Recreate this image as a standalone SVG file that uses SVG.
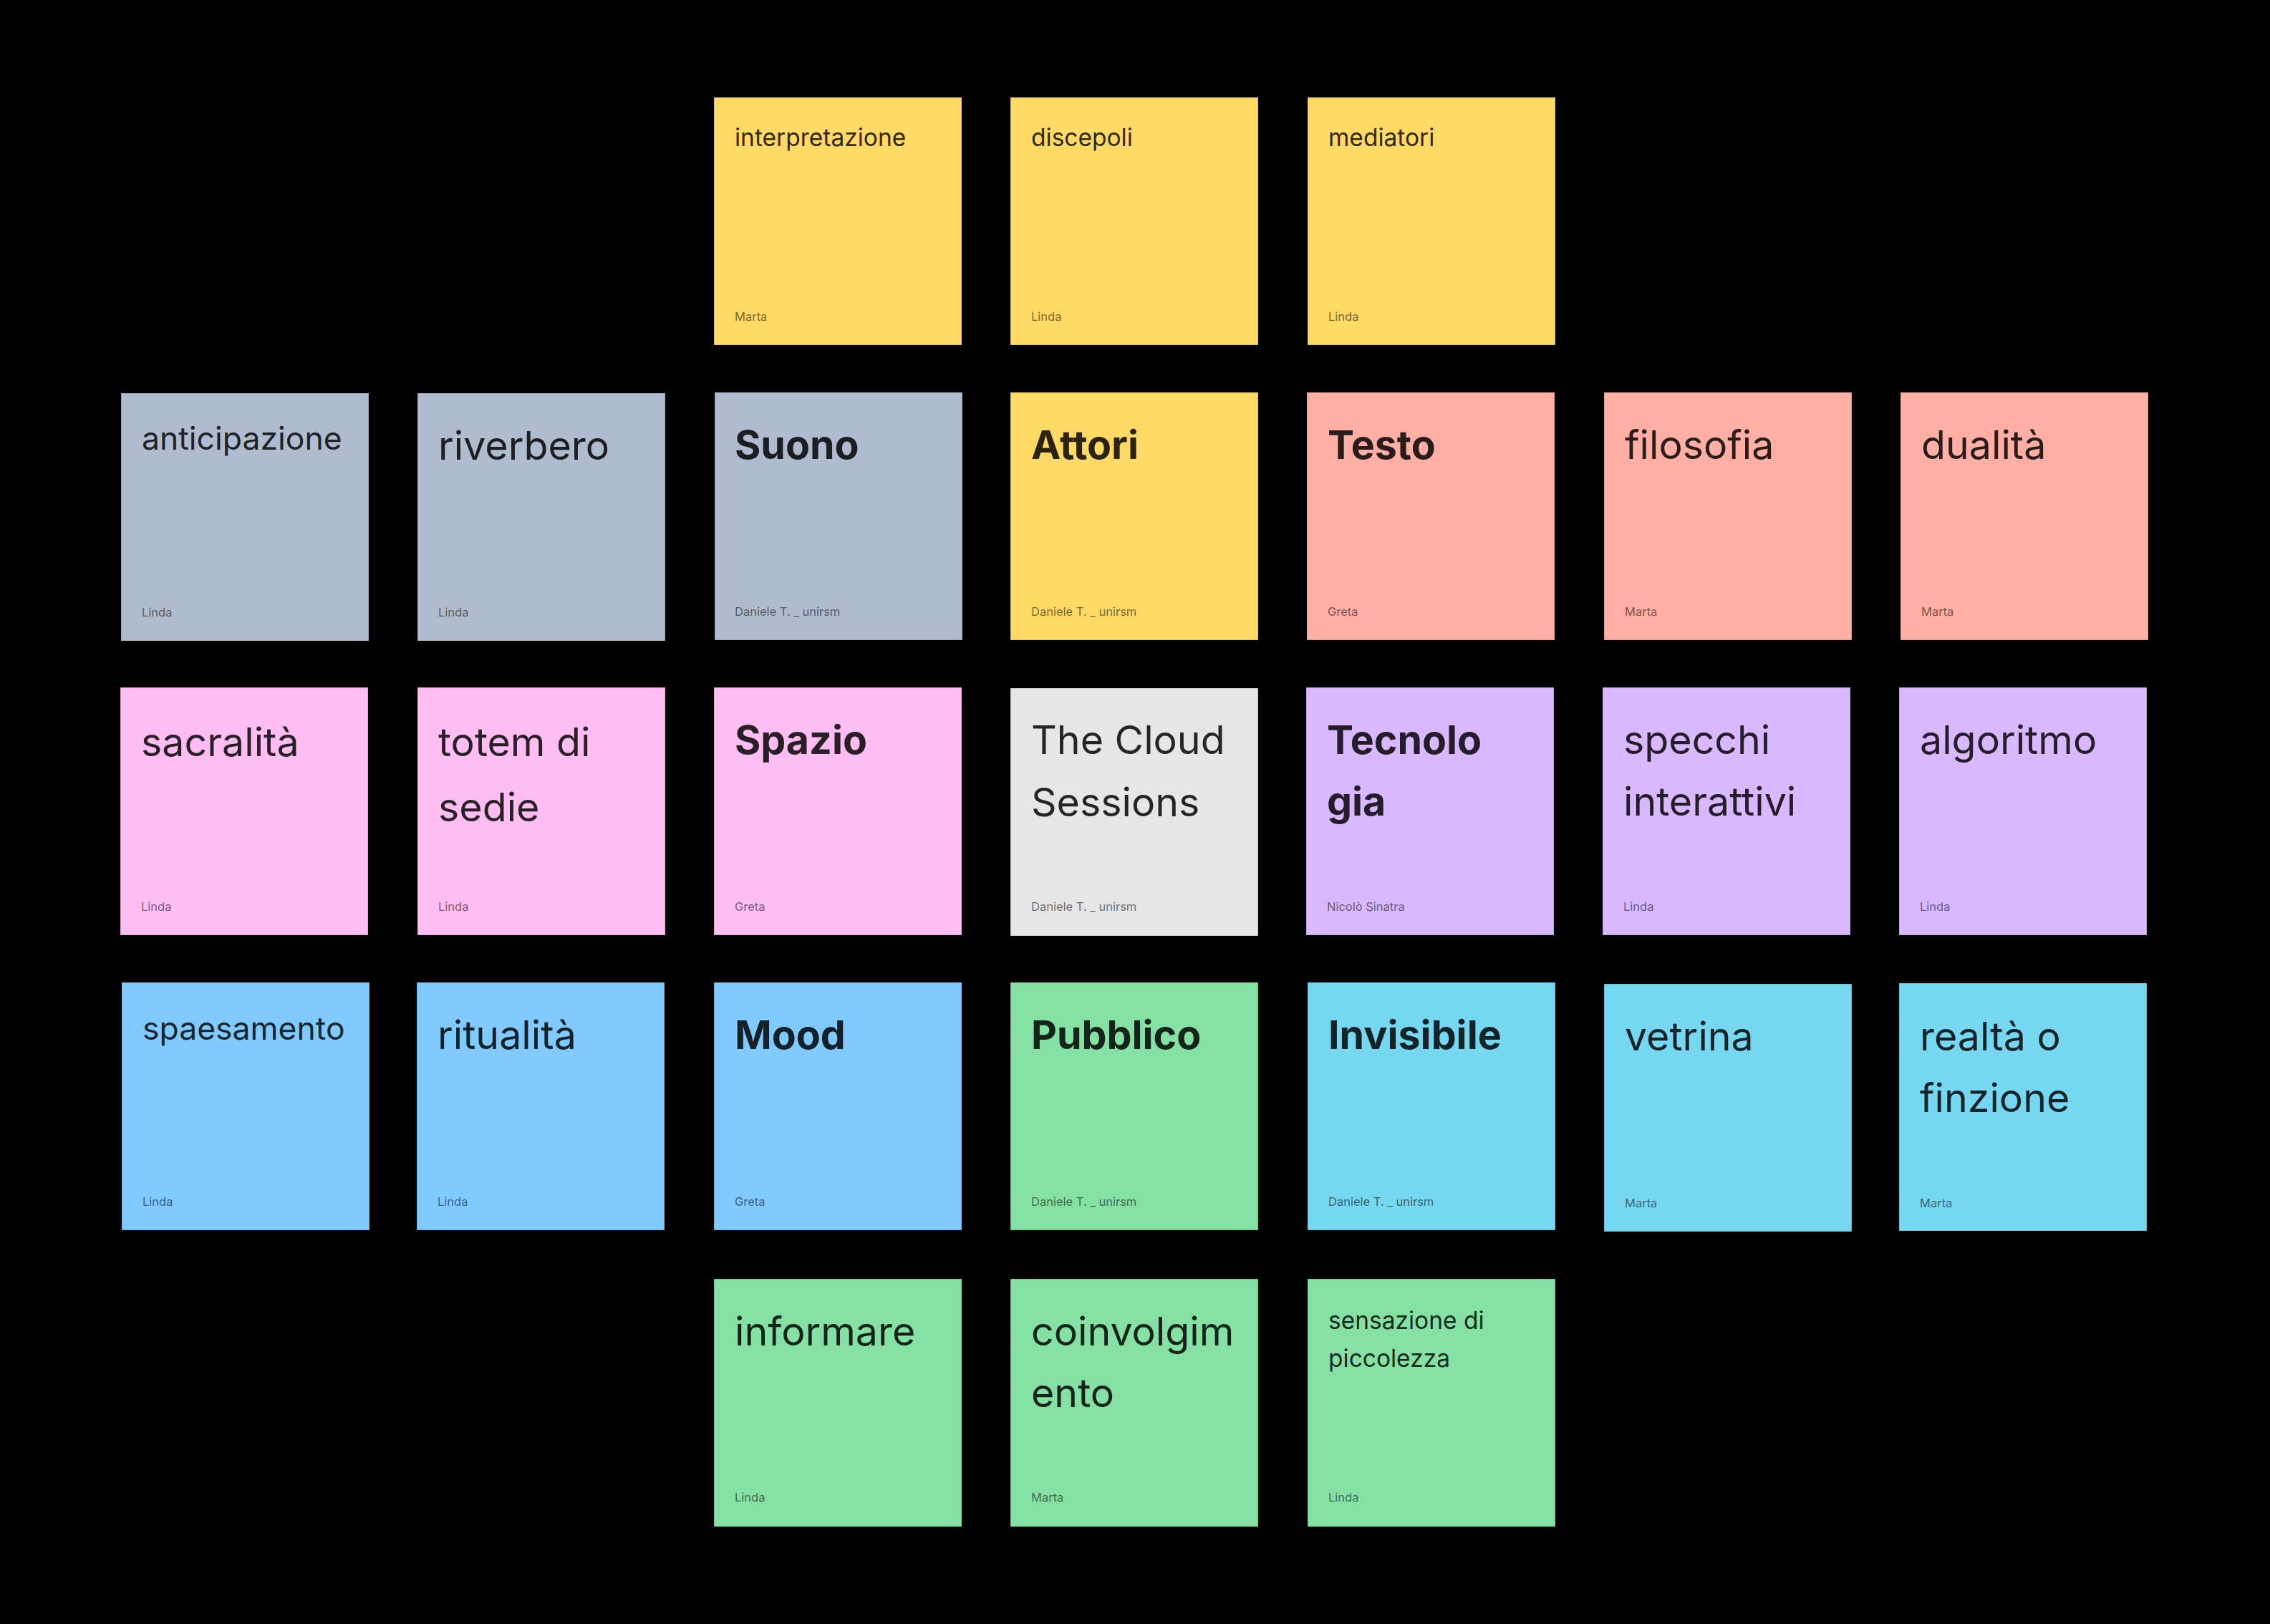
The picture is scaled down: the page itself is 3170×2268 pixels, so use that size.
<svg xmlns="http://www.w3.org/2000/svg" width="3170" height="2268" viewBox="0 0 3170 2268">
<style>
.note{stroke:rgba(0,0,0,0.25);stroke-width:1}
.yellow{fill:#FFD966}.slate{fill:#AFBCCF}.red{fill:#FFAFA3}.pink{fill:#FFBDF2}.grey{fill:#E6E6E6}.violet{fill:#D9B8FF}.blue{fill:#80CAFF}.teal{fill:#75D7F0}.green{fill:#85E0A3}
text{font-family:Inter,"Noto Sans","Liberation Sans",sans-serif}
.t{font-size:55.5px;fill:rgba(0,0,0,0.84)}
.b{font-weight:700}
.m{font-size:44.5px;fill:rgba(0,0,0,0.84)}
.s{font-size:33.5px;fill:rgba(0,0,0,0.84)}
.au{font-size:16.5px;fill:rgba(0,0,0,0.55)}
</style>
<rect x="0" y="0" width="3170" height="2268" fill="#000"/>
<g id="connectors"></g>

<g id="n-interpretazione"><rect class="note yellow" x="997" y="136" width="346" height="346"/><text class="s" x="1026" y="204">interpretazione</text><text class="au" x="1026" y="448">Marta</text></g>
<g id="n-discepoli"><rect class="note yellow" x="1411" y="136" width="346" height="346"/><text class="s" x="1440" y="204">discepoli</text><text class="au" x="1440" y="448">Linda</text></g>
<g id="n-mediatori"><rect class="note yellow" x="1826" y="136" width="346" height="346"/><text class="s" x="1855" y="204">mediatori</text><text class="au" x="1855" y="448">Linda</text></g>

<g id="n-anticipazione"><rect class="note slate" x="169" y="549" width="346" height="346"/><text class="m" x="198" y="628">anticipazione</text><text class="au" x="198" y="861">Linda</text></g>
<g id="n-riverbero"><rect class="note slate" x="583" y="549" width="346" height="346"/><text class="t" x="612" y="642">riverbero</text><text class="au" x="612" y="861">Linda</text></g>
<g id="n-suono"><rect class="note slate" x="998" y="548" width="346" height="346"/><text class="t b" x="1026" y="641">Suono</text><text class="au" x="1026" y="860">Daniele T. _ unirsm</text></g>
<g id="n-attori"><rect class="note yellow" x="1411" y="548" width="346" height="346"/><text class="t b" x="1440" y="641">Attori</text><text class="au" x="1440" y="860">Daniele T. _ unirsm</text></g>
<g id="n-testo"><rect class="note red" x="1825" y="548" width="346" height="346"/><text class="t b" x="1854" y="641">Testo</text><text class="au" x="1854" y="860">Greta</text></g>
<g id="n-filosofia"><rect class="note red" x="2240" y="548" width="346" height="346"/><text class="t" x="2269" y="641">filosofia</text><text class="au" x="2269" y="860">Marta</text></g>
<g id="n-dualita"><rect class="note red" x="2654" y="548" width="346" height="346"/><text class="t" x="2683" y="641">dualità</text><text class="au" x="2683" y="860">Marta</text></g>

<g id="n-sacralita"><rect class="note pink" x="168" y="960" width="346" height="346"/><text class="t" x="197" y="1056">sacralità</text><text class="au" x="197" y="1272">Linda</text></g>
<g id="n-totem"><rect class="note pink" x="583" y="960" width="346" height="346"/><text class="t" x="612" y="1056">totem di</text><text class="t" x="612" y="1147">sedie</text><text class="au" x="612" y="1272">Linda</text></g>
<g id="n-spazio"><rect class="note pink" x="997" y="960" width="346" height="346"/><text class="t b" x="1026" y="1053">Spazio</text><text class="au" x="1026" y="1272">Greta</text></g>
<g id="n-cloud"><rect class="note grey" x="1411" y="961" width="346" height="346"/><text class="t" x="1440" y="1053">The Cloud</text><text class="t" x="1440" y="1140">Sessions</text><text class="au" x="1440" y="1272">Daniele T. _ unirsm</text></g>
<g id="n-tecnologia"><rect class="note violet" x="1824" y="960" width="346" height="346"/><text class="t b" x="1853" y="1053">Tecnolo</text><text class="t b" x="1853" y="1139">gia</text><text class="au" x="1853" y="1272">Nicolò Sinatra</text></g>
<g id="n-specchi"><rect class="note violet" x="2238" y="960" width="346" height="346"/><text class="t" x="2267" y="1053">specchi</text><text class="t" x="2267" y="1139">interattivi</text><text class="au" x="2267" y="1272">Linda</text></g>
<g id="n-algoritmo"><rect class="note violet" x="2652" y="960" width="346" height="346"/><text class="t" x="2681" y="1053">algoritmo</text><text class="au" x="2681" y="1272">Linda</text></g>

<g id="n-spaesamento"><rect class="note blue" x="170" y="1372" width="346" height="346"/><text class="m" x="199" y="1452">spaesamento</text><text class="au" x="199" y="1684">Linda</text></g>
<g id="n-ritualita"><rect class="note blue" x="582" y="1372" width="346" height="346"/><text class="t" x="611" y="1465">ritualità</text><text class="au" x="611" y="1684">Linda</text></g>
<g id="n-mood"><rect class="note blue" x="997" y="1372" width="346" height="346"/><text class="t b" x="1026" y="1465">Mood</text><text class="au" x="1026" y="1684">Greta</text></g>
<g id="n-pubblico"><rect class="note green" x="1411" y="1372" width="346" height="346"/><text class="t b" x="1440" y="1465">Pubblico</text><text class="au" x="1440" y="1684">Daniele T. _ unirsm</text></g>
<g id="n-invisibile"><rect class="note teal" x="1826" y="1372" width="346" height="346"/><text class="t b" x="1855" y="1465">Invisibile</text><text class="au" x="1855" y="1684">Daniele T. _ unirsm</text></g>
<g id="n-vetrina"><rect class="note teal" x="2240" y="1374" width="346" height="346"/><text class="t" x="2269" y="1467">vetrina</text><text class="au" x="2269" y="1686">Marta</text></g>
<g id="n-realta"><rect class="note teal" x="2652" y="1373" width="346" height="346"/><text class="t" x="2681" y="1467">realtà o</text><text class="t" x="2681" y="1553">finzione</text><text class="au" x="2681" y="1686">Marta</text></g>

<g id="n-informare"><rect class="note green" x="997" y="1786" width="346" height="346"/><text class="t" x="1026" y="1879">informare</text><text class="au" x="1026" y="2097">Linda</text></g>
<g id="n-coinvolgimento"><rect class="note green" x="1411" y="1786" width="346" height="346"/><text class="t" x="1440" y="1879">coinvolgim</text><text class="t" x="1440" y="1965">ento</text><text class="au" x="1440" y="2097">Marta</text></g>
<g id="n-sensazione"><rect class="note green" x="1826" y="1786" width="346" height="346"/><text class="s" x="1855" y="1856">sensazione di</text><text class="s" x="1855" y="1909">piccolezza</text><text class="au" x="1855" y="2097">Linda</text></g>
</svg>
